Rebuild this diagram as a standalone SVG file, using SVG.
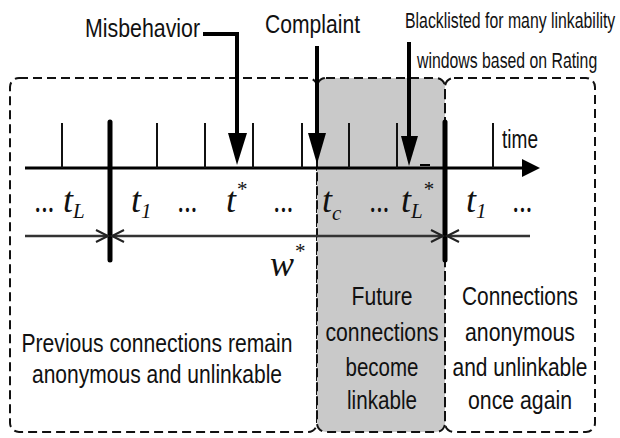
<svg xmlns="http://www.w3.org/2000/svg" width="620" height="438" viewBox="0 0 620 438">
<style>
.box{stroke:#111;stroke-width:2;stroke-dasharray:9 5}
.lbl{font-family:"Liberation Sans",Arial,sans-serif;font-size:25px;fill:#111}
.cal{font-family:"Liberation Sans",Arial,sans-serif;font-size:22px;fill:#111}
.math{font-family:"Liberation Serif","Times New Roman",serif;font-style:italic;font-size:36px;fill:#111}
.sub{font-size:21px}
.tick{stroke:#111;stroke-width:2}
.bar{stroke:#000;stroke-width:5;stroke-linecap:round}
.shaft{stroke:#000;stroke-width:4;fill:none}
.head{fill:#000}
.chev{stroke:#222;stroke-width:2;fill:none}
</style>
<rect width="620" height="438" fill="#fff"/>
<g id="regions">
  <rect id="region-previous" class="box" x="10" y="78" width="307" height="354" rx="9" fill="none"/>
  <rect id="region-future" class="box" x="317" y="78" width="128" height="354" rx="9" fill="#c9c9c9"/>
  <rect id="region-again" class="box" x="445" y="78" width="150" height="354" rx="9" fill="none"/>
</g>
<g id="timeline">
  <line x1="25" y1="168" x2="524" y2="168" stroke="#000" stroke-width="3"/>
  <polygon class="head" points="540,168 522,159 522,177"/>
  <line x1="25" y1="236" x2="530" y2="236" stroke="#333" stroke-width="2.5"/>
  <g class="tick">
    <line x1="62" y1="123" x2="62" y2="168"/>
    <line x1="157" y1="123" x2="157" y2="168"/>
    <line x1="205" y1="123" x2="205" y2="168"/>
    <line x1="253" y1="123" x2="253" y2="168"/>
    <line x1="302" y1="123" x2="302" y2="168"/>
    <line x1="349" y1="123" x2="349" y2="168"/>
    <line x1="397" y1="123" x2="397" y2="168"/>
    <line x1="493" y1="123" x2="493" y2="168"/>
  </g>
  <line x1="420" y1="165" x2="430" y2="165" stroke="#000" stroke-width="2"/>
  <line class="bar" x1="110" y1="122" x2="110" y2="260"/>
  <line class="bar" x1="445" y1="122" x2="445" y2="260"/>
  <polyline class="chev" points="96,230 108,236 96,242"/>
  <polyline class="chev" points="124,230 112,236 124,242"/>
  <polyline class="chev" points="431,230 443,236 431,242"/>
  <polyline class="chev" points="459,230 447,236 459,242"/>
  <text class="lbl" x="502" y="148" font-size="22" textLength="36" lengthAdjust="spacingAndGlyphs">time</text>
</g>
<g id="connectors">
  <polyline class="shaft" points="203,34 237,34 237,136"/>
  <polygon class="head" points="228,133 247,133 237,165"/>
  <line class="shaft" x1="317" y1="46" x2="317" y2="136"/>
  <polygon class="head" points="308,133 326,133 317,164"/>
  <line class="shaft" x1="409" y1="42" x2="409" y2="139"/>
  <polygon class="head" points="401,136 418,136 409,166"/>
</g>
<g id="label-misbehavior"><text class="lbl" x="85" y="37" textLength="115" lengthAdjust="spacingAndGlyphs">Misbehavior</text></g>
<g id="label-complaint"><text class="lbl" x="265" y="33" textLength="95" lengthAdjust="spacingAndGlyphs">Complaint</text></g>
<g id="label-blacklisted">
  <text class="cal" transform="translate(405,28) scale(0.72,1)" textLength="292" lengthAdjust="spacingAndGlyphs">Blacklisted for many linkability</text>
  <text class="cal" transform="translate(417,68) scale(0.718,1)" textLength="251" lengthAdjust="spacingAndGlyphs">windows based on Rating</text>
</g>
<g id="time-labels" class="math">
  <text x="35" y="212" textLength="20" lengthAdjust="spacingAndGlyphs">...</text>
  <text x="63" y="212">t<tspan class="sub" dy="6">L</tspan></text>
  <text x="131" y="212">t<tspan class="sub" dy="6">1</tspan></text>
  <text x="178" y="212" textLength="20" lengthAdjust="spacingAndGlyphs">...</text>
  <text x="226" y="212">t<tspan class="sub" dy="-16">*</tspan></text>
  <text x="274" y="212" textLength="20" lengthAdjust="spacingAndGlyphs">...</text>
  <text x="322" y="212">t<tspan class="sub" dy="8">c</tspan></text>
  <text x="370" y="212" textLength="20" lengthAdjust="spacingAndGlyphs">...</text>
  <text x="401" y="212">t<tspan class="sub" dy="6">L</tspan><tspan class="sub" dy="-22">*</tspan></text>
  <text x="466" y="212">t<tspan class="sub" dy="6">1</tspan></text>
  <text x="513" y="212" textLength="20" lengthAdjust="spacingAndGlyphs">...</text>
  <text x="270" y="276">w<tspan class="sub" dy="-18">*</tspan></text>
</g>
<g id="text-previous" class="lbl" text-anchor="middle">
  <text x="157" y="352" textLength="271" lengthAdjust="spacingAndGlyphs">Previous connections remain</text>
  <text x="157" y="383" textLength="250" lengthAdjust="spacingAndGlyphs">anonymous and unlinkable</text>
</g>
<g id="text-future" class="lbl" text-anchor="middle">
  <text x="382" y="305" textLength="61" lengthAdjust="spacingAndGlyphs">Future</text>
  <text x="382" y="341" textLength="113" lengthAdjust="spacingAndGlyphs">connections</text>
  <text x="382" y="376" textLength="73" lengthAdjust="spacingAndGlyphs">become</text>
  <text x="382" y="409" textLength="70" lengthAdjust="spacingAndGlyphs">linkable</text>
</g>
<g id="text-again" class="lbl" text-anchor="middle">
  <text x="520" y="305" textLength="116" lengthAdjust="spacingAndGlyphs">Connections</text>
  <text x="520" y="341" textLength="110" lengthAdjust="spacingAndGlyphs">anonymous</text>
  <text x="520" y="376" textLength="135" lengthAdjust="spacingAndGlyphs">and unlinkable</text>
  <text x="520" y="409" textLength="104" lengthAdjust="spacingAndGlyphs">once again</text>
</g>
</svg>
